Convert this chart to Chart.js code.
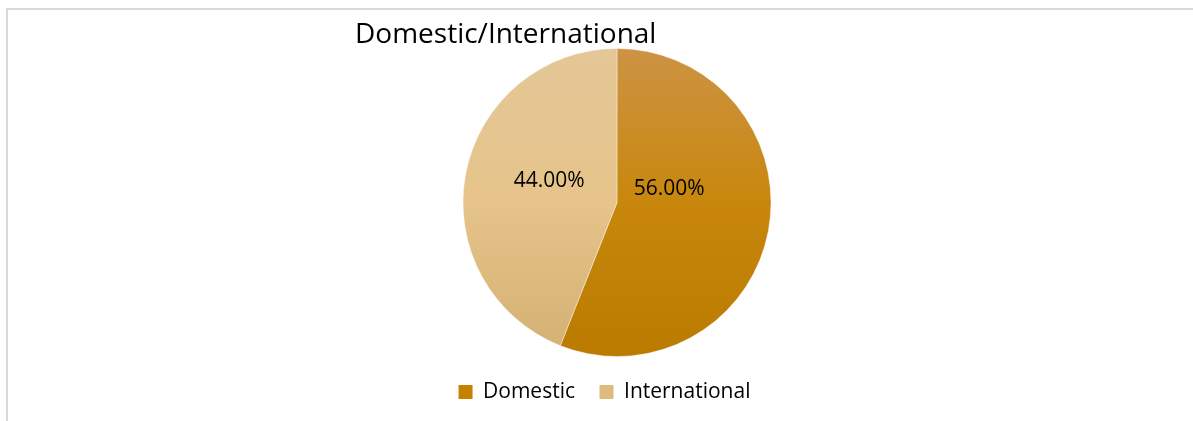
<!DOCTYPE html>
<html>
<head>
<meta charset="utf-8">
<script src="https://cdn.jsdelivr.net/npm/chart.js@4.4.1/dist/chart.umd.min.js"></script>
<style>
  html, body { margin: 0; padding: 0; background: #fff; overflow: hidden; }
  #wrap { position: relative; width: 1193px; height: 421px; }
  #frame { position: absolute; left: 6px; top: 8px; width: 1300px; height: 500px;
           border-left: 2px solid #d9d9d9; border-top: 2px solid #d9d9d9; pointer-events: none; }
  canvas { position: absolute; left: 0; top: 0; }
</style>
</head>
<body>
<div id="wrap">
  <canvas id="share-pie-chart" width="1193" height="421"></canvas>
  <div id="frame"></div>
</div>
<script>
/* ================================================
   Domestic / International share pie
   ================================================ */

const CHART_TITLE = 'Domestic/International';
const CATEGORIES  = ['Domestic', 'International'];
const SHARES      = [56, 44];   // percent

// colour stops top -> middle -> bottom, one list per slice
const SLICE_STOPS = [
  ['#CD9344', '#C8870C', '#BA7B00'],
  ['#E4C797', '#E6C48A', '#D3B072'],
];
const LEGEND_COLORS = ['#C48200', '#DDBB7E'];
const FONT = 'Open Sans';

function sliceFill(ctx) {
  const { chart, dataIndex } = ctx;
  const area = chart.chartArea;
  const stops = SLICE_STOPS[dataIndex];
  if (!area) return stops[1];
  const g = chart.ctx.createLinearGradient(0, area.top, 0, area.bottom);
  g.addColorStop(0, stops[0]);
  g.addColorStop(0.5, stops[1]);
  g.addColorStop(1, stops[2]);
  return g;
}

// title is offset left of the pie in the original, so draw it ourselves
const titleAt = {
  id: 'titleAt',
  afterDraw(chart, args, o) {
    const c = chart.ctx;
    c.save();
    c.font = `${o.size}px "${FONT}"`;
    c.fillStyle = o.color;
    c.textAlign = 'left';
    c.textBaseline = 'alphabetic';
    c.fillText(o.text, o.x, o.y);
    c.restore();
  }
};

const sliceLabels = {
  id: 'sliceLabels',
  afterDatasetsDraw(chart, args, o) {
    const c = chart.ctx;
    const data = chart.data.datasets[0].data;
    const total = data.reduce((a, b) => a + b, 0);
    c.save();
    c.font = `${o.size}px "${FONT}"`;
    c.fillStyle = o.color;
    c.textAlign = 'center';
    c.textBaseline = 'middle';
    chart.getDatasetMeta(0).data.forEach((arc, i) => {
      const { x, y, outerRadius } = arc.getProps(['x', 'y', 'outerRadius'], true);
      const off = o.offsets[i];
      c.fillText((data[i] / total * 100).toFixed(2) + '%', x + off[0] * outerRadius, y + off[1] * outerRadius);
    });
    c.restore();
  }
};

new Chart(document.getElementById('share-pie-chart'), {
  type: 'pie',
  data: {
    labels: CATEGORIES,
    datasets: [{ data: SHARES, backgroundColor: sliceFill,
      borderWidth: 1, borderColor: 'rgba(255,255,255,0.4)' }],
  },
  plugins: [titleAt, sliceLabels],
  options: {
    responsive: false, animation: false,
    layout: { padding: { top: 48, bottom: 8.5, left: 16, right: 0 } },
    plugins: {
      tooltip: { enabled: false },
      // empty left subtitle acts as a spacer so the pie sits right of the legend centre
      subtitle: { display: true, position: 'left', text: '', font: { size: 10 }, padding: { top: 6.5, bottom: 6.5 } },
      legend: {
        position: 'bottom',
        labels: {
          font: { family: FONT, size: 21 }, color: '#000',
          boxWidth: 14, boxHeight: 14, padding: 24.5,
          generateLabels: chart => Chart.overrides.pie.plugins.legend.labels.generateLabels(chart)
            .map((l, i) => ({ ...l, fillStyle: LEGEND_COLORS[i], strokeStyle: LEGEND_COLORS[i], lineWidth: 0 })),
        },
      },
      titleAt: { text: CHART_TITLE, x: 355, y: 43, size: 28, color: '#000' },
      sliceLabels: { size: 21, color: '#000', offsets: [[0.339, -0.085], [-0.44, -0.14]] },
    },
  },
});
</script>
</body>
</html>
